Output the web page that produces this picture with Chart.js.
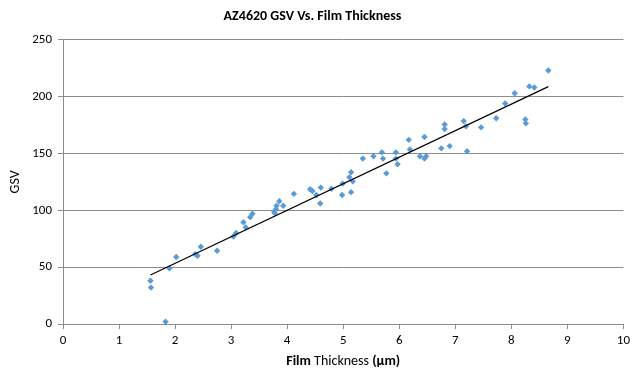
<!DOCTYPE html>
<html><head><meta charset="utf-8">
<script src="https://cdn.jsdelivr.net/npm/chart.js@4/dist/chart.umd.min.js"></script>
<style>html,body{margin:0;padding:0;background:#fff}#wrap{width:634px;height:370px}</style>
</head><body><div id="wrap"><canvas id="c" width="634" height="370"></canvas></div>
<script>
const chartTitle = 'AZ4620 GSV Vs. Film Thickness';
const yAxisTitle = 'GSV';
const xAxisTitleParts = [
  {text: 'Film', bold: true},
  {text: ' Thickness ', bold: false},
  {text: '(µm)', bold: true}
];
const thickness = [1.56,1.57,1.83,1.90,2.02,2.36,2.40,2.46,2.75,3.04,3.09,3.22,3.26,3.34,3.38,3.77,3.78,3.80,3.81,3.86,3.93,4.12,4.41,4.45,4.52,4.59,4.60,4.79,4.98,4.99,5.11,5.14,5.14,5.17,5.35,5.54,5.69,5.71,5.77,5.94,5.94,5.97,6.17,6.19,6.37,6.45,6.45,6.48,6.75,6.81,6.81,6.90,7.15,7.19,7.21,7.46,7.73,7.89,8.06,8.25,8.26,8.32,8.41,8.66];
const gsv = [38,32,2,49,59,61.5,60,68,64.5,77,80,89.5,85,94,97,98.5,97.5,101,104,108,104,114.5,118.5,117,113.5,106,120,119,113.5,123.5,129,133.5,116,125.5,145.5,147.5,151,145.5,132.5,151,145.5,140.5,162,153.5,147.5,164.5,145.5,147.5,154.5,175.5,171.5,156.5,178.5,174,152,173,181,194,203,180,176.5,209,208,223];
const xTicks = [0,1,2,3,4,5,6,7,8,9,10];
const yTicks = [0,50,100,150,200,250];

const FONT = 'Carlito, Lato, "Open Sans", sans-serif';
const points = thickness.map((x, i) => ({x: x, y: gsv[i]}));

// least-squares linear trendline over the data range
const n = thickness.length;
const mx = thickness.reduce((a, b) => a + b, 0) / n;
const my = gsv.reduce((a, b) => a + b, 0) / n;
let sxy = 0, sxx = 0;
for (let i = 0; i < n; i++) { sxy += (thickness[i] - mx) * (gsv[i] - my); sxx += (thickness[i] - mx) ** 2; }
const slope = sxy / sxx, intercept = my - slope * mx;
const xMin = Math.min(...thickness), xMax = Math.max(...thickness);
const trend = [{x: xMin, y: intercept + slope * xMin}, {x: xMax, y: intercept + slope * xMax}];

const GRID = '#8c8c8c';

const xTitlePlugin = {
  id: 'xTitle',
  afterDraw(chart) {
    const ctx = chart.ctx, ca = chart.chartArea;
    ctx.save();
    ctx.fillStyle = '#000';
    ctx.textBaseline = 'middle';
    const f = p => (p.bold ? 'bold ' : '') + '14px ' + FONT;
    const widths = xAxisTitleParts.map(p => { ctx.font = f(p); return ctx.measureText(p.text).width; });
    const total = widths.reduce((a, b) => a + b, 0);
    let x = (ca.left + ca.right) / 2 - total / 2;
    const y = chart.scales.x.bottom - 9;
    xAxisTitleParts.forEach((p, i) => {
      ctx.font = f(p);
      ctx.textAlign = 'left';
      ctx.fillText(p.text, x, y);
      x += widths[i];
    });
    ctx.restore();
  }
};

new Chart(document.getElementById('c'), {
  type: 'scatter',
  data: {
    datasets: [
      {type: 'line', data: trend, borderColor: '#000', borderWidth: 1.2, pointRadius: 0, fill: false},
      {data: points, pointStyle: 'rectRot', pointRadius: 3.2, backgroundColor: '#5b9bd5', borderColor: '#5b9bd5', borderWidth: 0}
    ]
  },
  options: {
    responsive: false,
    devicePixelRatio: 1,
    animation: false,
    layout: {padding: {left: 0, right: 9, top: 0, bottom: 0}},
    plugins: {
      legend: {display: false},
      tooltip: {enabled: false},
      title: {display: true, text: chartTitle, color: '#000', font: {family: FONT, size: 14, weight: 'bold'}, padding: {top: 8, bottom: 15}}
    },
    scales: {
      x: {
        type: 'linear', min: 0, max: 10,
        afterBuildTicks: s => { s.ticks = xTicks.map(v => ({value: v})); },
        afterFit: s => { s.height = 46; },
        ticks: {color: '#000', font: {family: FONT, size: 13}, padding: 4, maxRotation: 0},
        grid: {drawOnChartArea: false, drawTicks: true, tickLength: 5, color: GRID},
        border: {color: GRID}
      },
      y: {
        min: 0, max: 250,
        afterBuildTicks: s => { s.ticks = yTicks.map(v => ({value: v})); },
        afterFit: s => { s.width = 63; },
        ticks: {color: '#000', font: {family: FONT, size: 13}, padding: 6},
        grid: {color: GRID, tickLength: 5},
        border: {color: GRID},
        title: {display: true, text: yAxisTitle, color: '#000', font: {family: FONT, size: 14}, padding: {top: 7, bottom: 0}}
      }
    }
  },
  plugins: [xTitlePlugin]
});
</script></body></html>
